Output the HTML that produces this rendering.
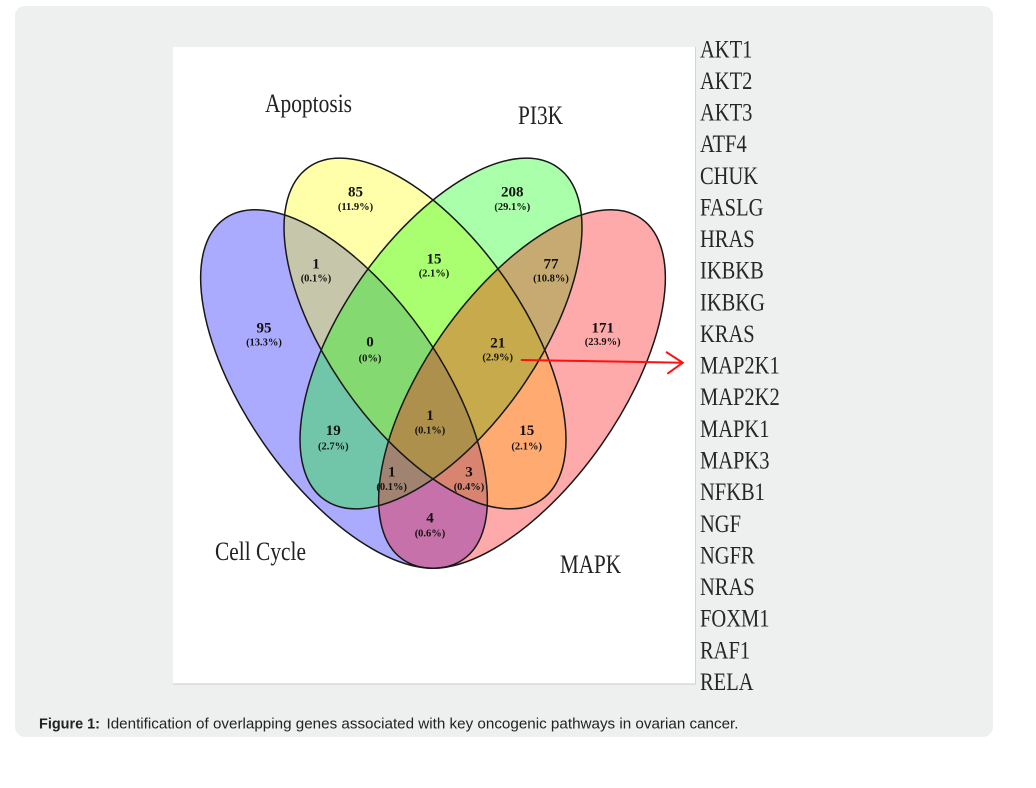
<!DOCTYPE html>
<html>
<head>
<meta charset="utf-8">
<style>
  html, body { margin: 0; padding: 0; background: #ffffff; }
  body { width: 1036px; height: 788px; overflow: hidden; }
  svg { display: block; }
</style>
</head>
<body>
<svg width="1036" height="788" viewBox="0 0 1036 788" xmlns="http://www.w3.org/2000/svg">
  <!-- page background -->
  <rect x="0" y="0" width="1036" height="788" fill="#ffffff"/>
  <!-- grey panel -->
  <rect x="15" y="6" width="978" height="731" rx="10" ry="10" fill="#eef0ef"/>
  <!-- white figure image -->
  <rect x="173" y="47" width="522" height="637" fill="#ffffff"/>
  <line x1="173" y1="684" x2="695.5" y2="684" stroke="#c8c8c8" stroke-width="1"/>
  <line x1="695.5" y1="47" x2="695.5" y2="684" stroke="#d4d4d4" stroke-width="1"/>

  <!-- Venn fills: blue, yellow, green, red at 1/3 alpha -->
  <g fill-opacity="0.333" stroke="none">
    <ellipse cx="0" cy="0" rx="208" ry="97" transform="translate(344,389) rotate(55)" fill="#0000ff"/>
    <ellipse cx="0" cy="0" rx="203" ry="97" transform="translate(425,333.5) rotate(55)" fill="#ffff00"/>
    <ellipse cx="0" cy="0" rx="203" ry="97" transform="translate(441,333.5) rotate(-55)" fill="#00ff00"/>
    <ellipse cx="0" cy="0" rx="208" ry="97" transform="translate(522,389) rotate(-55)" fill="#ff0000"/>
  </g>
  <!-- Venn outlines -->
  <g fill="none" stroke="#181818" stroke-width="1.5">
    <ellipse cx="0" cy="0" rx="208" ry="97" transform="translate(344,389) rotate(55)"/>
    <ellipse cx="0" cy="0" rx="203" ry="97" transform="translate(425,333.5) rotate(55)"/>
    <ellipse cx="0" cy="0" rx="203" ry="97" transform="translate(441,333.5) rotate(-55)"/>
    <ellipse cx="0" cy="0" rx="208" ry="97" transform="translate(522,389) rotate(-55)"/>
  </g>

  <!-- set labels -->
  <g font-family="'Liberation Serif', serif" font-size="26" fill="#222">
    <text x="265" y="112" textLength="87" lengthAdjust="spacingAndGlyphs">Apoptosis</text>
    <text x="518" y="124" textLength="45" lengthAdjust="spacingAndGlyphs">PI3K</text>
    <text x="215" y="560" textLength="91" lengthAdjust="spacingAndGlyphs">Cell Cycle</text>
    <text x="560" y="573" textLength="61" lengthAdjust="spacingAndGlyphs">MAPK</text>
  </g>

  <!-- region counts -->
  <g font-family="'Liberation Serif', serif" font-weight="bold" fill="#111" text-anchor="middle">
    <g font-size="15">
      <text x="355.5" y="196.7">85</text>
      <text x="512.3" y="196.7">208</text>
      <text x="316" y="268.3">1</text>
      <text x="434" y="263.3">15</text>
      <text x="551" y="268.3">77</text>
      <text x="264" y="332.7">95</text>
      <text x="602.7" y="332.7">171</text>
      <text x="370" y="346.7">0</text>
      <text x="497.7" y="347.3">21</text>
      <text x="430" y="420">1</text>
      <text x="333.3" y="435">19</text>
      <text x="526.7" y="435">15</text>
      <text x="391.7" y="476.7">1</text>
      <text x="469" y="476.7">3</text>
      <text x="430" y="522.7">4</text>
    </g>
    <g font-size="10.5">
      <text x="355.5" y="210">(11.9%)</text>
      <text x="512.3" y="210">(29.1%)</text>
      <text x="316" y="281.7">(0.1%)</text>
      <text x="434" y="276.7">(2.1%)</text>
      <text x="551" y="281.7">(10.8%)</text>
      <text x="264" y="345.7">(13.3%)</text>
      <text x="602.7" y="345">(23.9%)</text>
      <text x="370" y="361.7">(0%)</text>
      <text x="497.7" y="360.7">(2.9%)</text>
      <text x="430" y="433.3">(0.1%)</text>
      <text x="333.3" y="449.3">(2.7%)</text>
      <text x="526.7" y="449.3">(2.1%)</text>
      <text x="391.7" y="490">(0.1%)</text>
      <text x="469" y="490">(0.4%)</text>
      <text x="430" y="536.7">(0.6%)</text>
    </g>
  </g>

  <!-- red arrow -->
  <g stroke="#ff1010" stroke-width="2" fill="none" stroke-linecap="round">
    <line x1="521.7" y1="360" x2="682.7" y2="362.7"/>
    <polyline points="666.7,352.3 682.7,362.7 668,373.3"/>
  </g>

  <!-- gene list -->
  <g transform="translate(700,0) scale(0.82,1)" font-family="'Liberation Serif', serif" font-size="25" fill="#262626">
    <text x="0" y="57.3">AKT1</text>
    <text x="0" y="88.9">AKT2</text>
    <text x="0" y="120.6">AKT3</text>
    <text x="0" y="152.2">ATF4</text>
    <text x="0" y="183.8">CHUK</text>
    <text x="0" y="215.5">FASLG</text>
    <text x="0" y="247.1">HRAS</text>
    <text x="0" y="278.7">IKBKB</text>
    <text x="0" y="310.3">IKBKG</text>
    <text x="0" y="342.0">KRAS</text>
    <text x="0" y="373.6">MAP2K1</text>
    <text x="0" y="405.2">MAP2K2</text>
    <text x="0" y="436.9">MAPK1</text>
    <text x="0" y="468.5">MAPK3</text>
    <text x="0" y="500.1">NFKB1</text>
    <text x="0" y="531.8">NGF</text>
    <text x="0" y="563.4">NGFR</text>
    <text x="0" y="595.0">NRAS</text>
    <text x="0" y="626.6">FOXM1</text>
    <text x="0" y="658.3">RAF1</text>
    <text x="0" y="689.9">RELA</text>
  </g>

  <!-- caption -->
  <g font-family="'Liberation Sans', Arial, sans-serif" fill="#222">
    <text x="39" y="728.3" font-size="14.4" font-weight="bold" textLength="61" lengthAdjust="spacingAndGlyphs">Figure 1:</text>
    <text x="106.5" y="728.3" font-size="15" textLength="632" lengthAdjust="spacingAndGlyphs">Identification of overlapping genes associated with key oncogenic pathways in ovarian cancer.</text>
  </g>
</svg>
</body>
</html>
